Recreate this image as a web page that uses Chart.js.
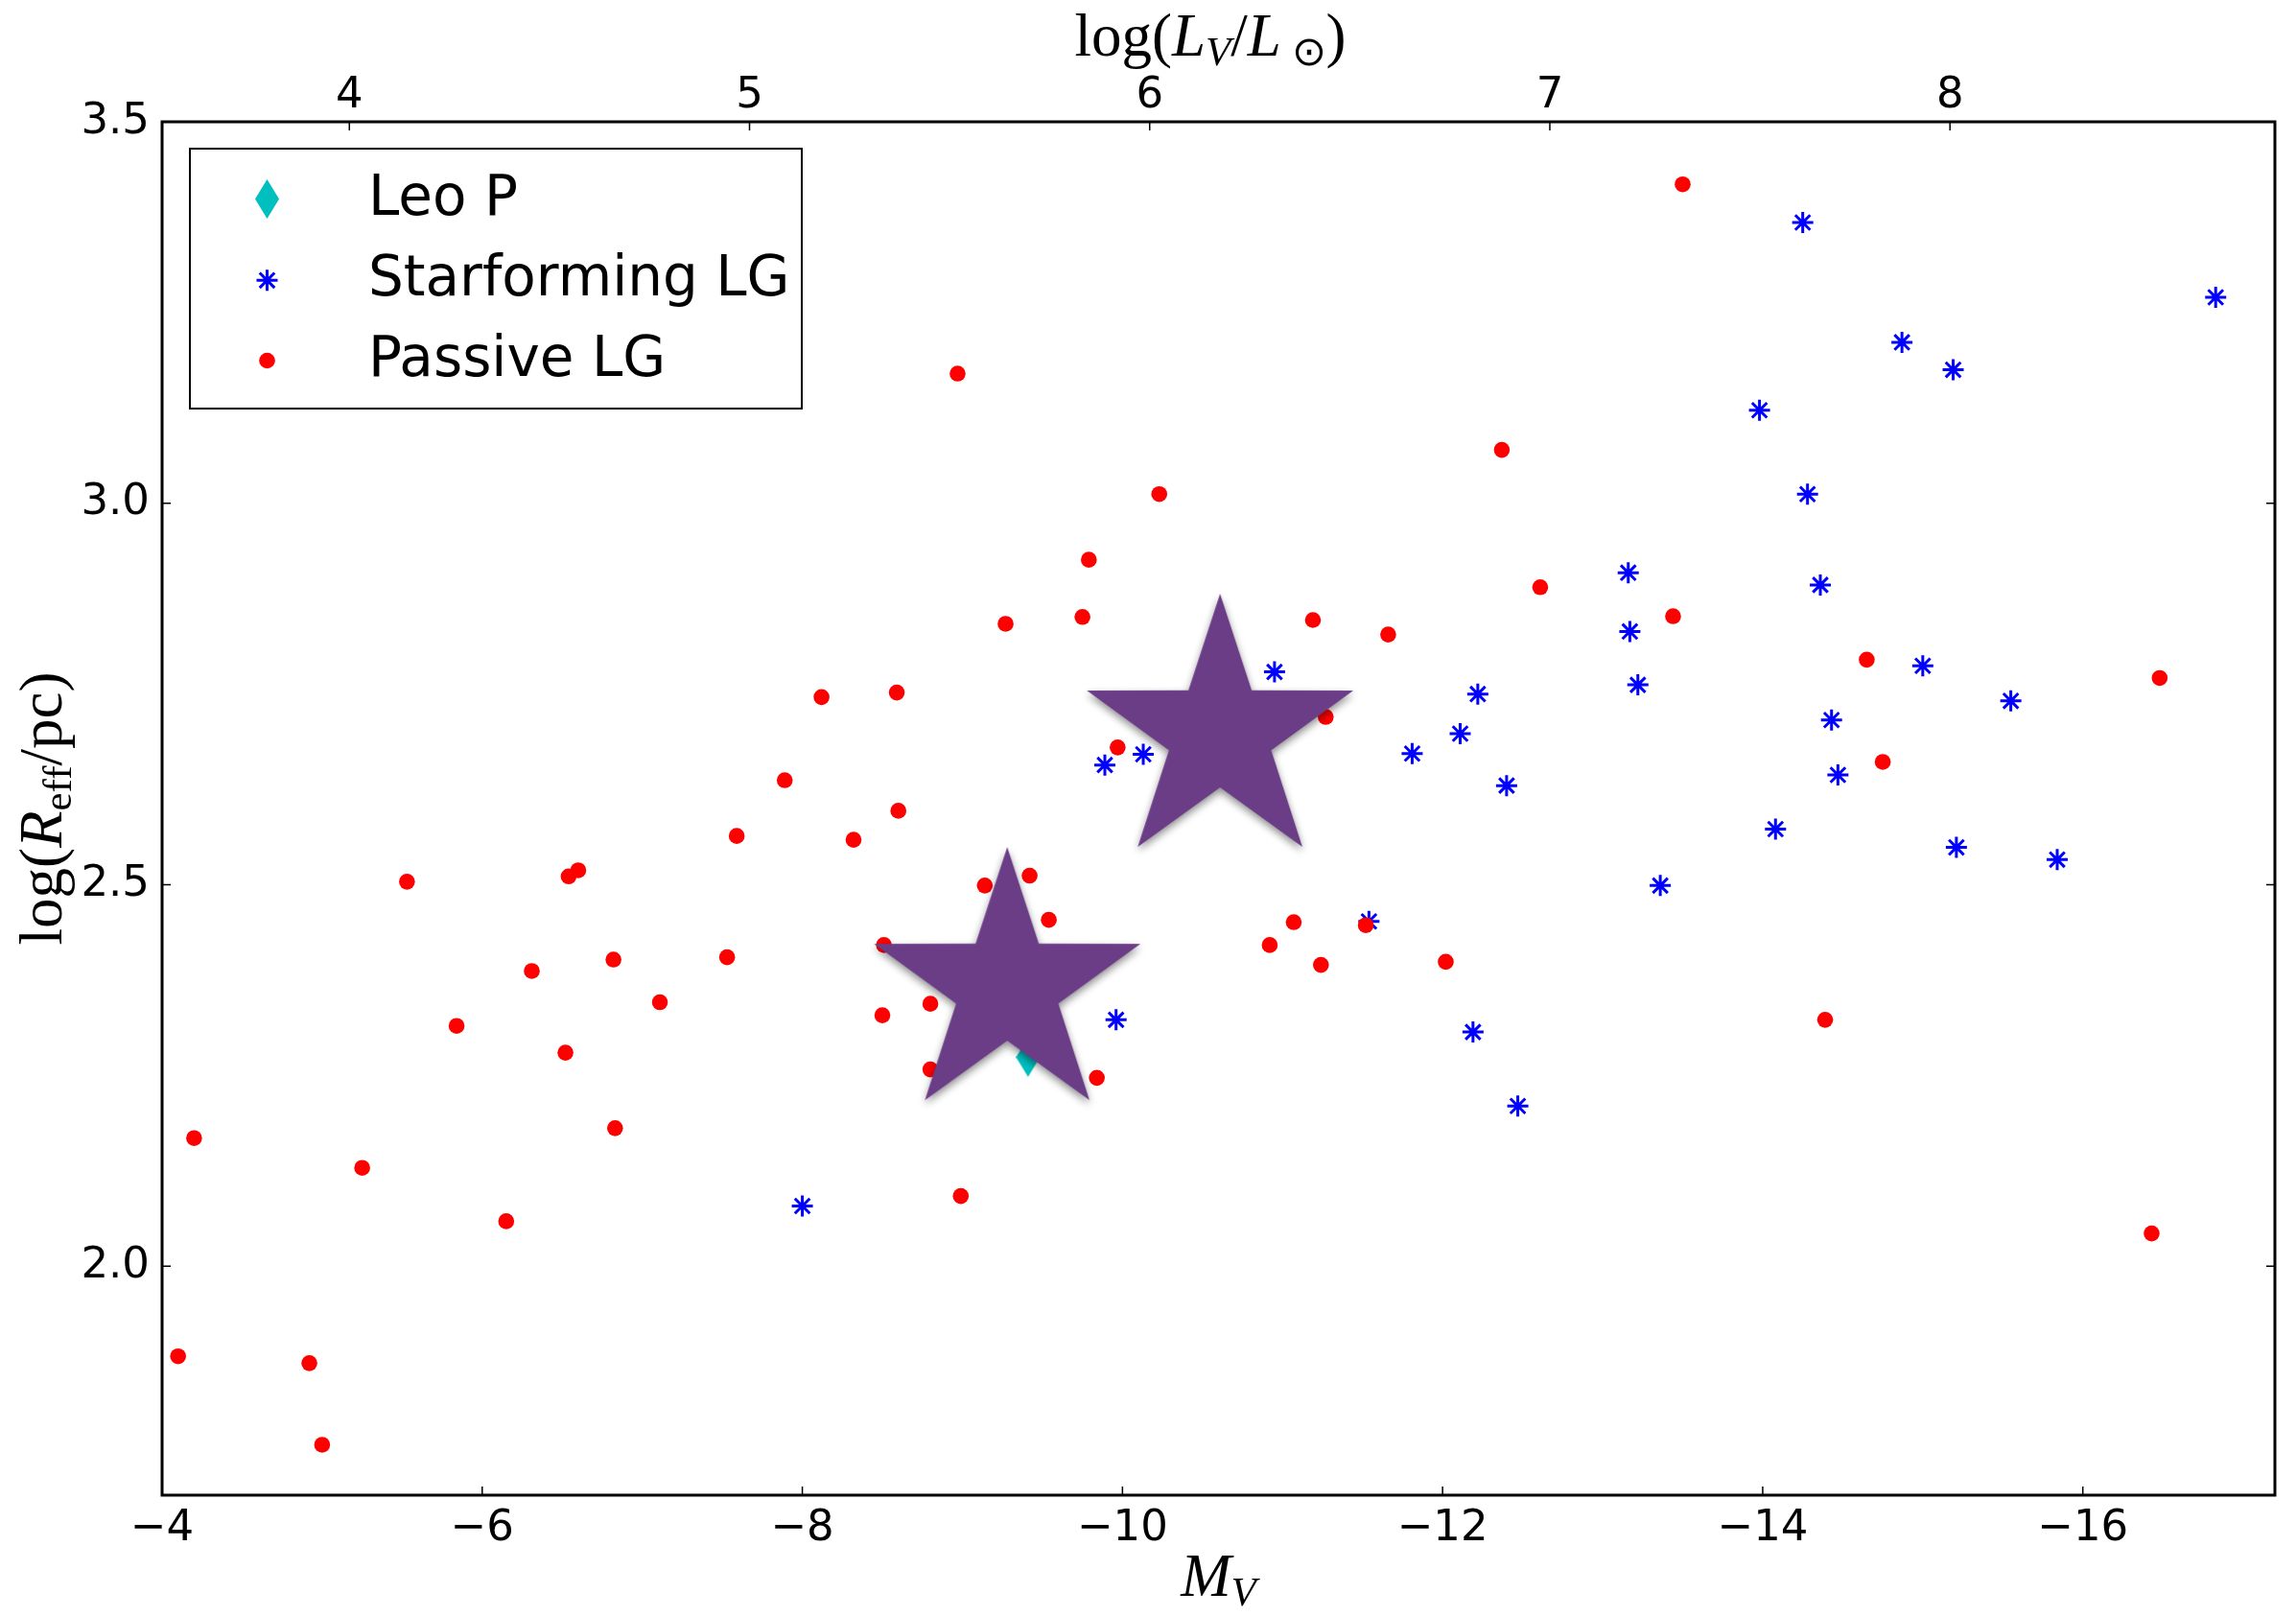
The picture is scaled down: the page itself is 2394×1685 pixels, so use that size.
<!DOCTYPE html>
<html>
<head>
<meta charset="utf-8">
<script src="https://cdn.jsdelivr.net/npm/chart.js@4.4.1/dist/chart.umd.min.js"></script>
<style>
  html, body { margin: 0; padding: 0; background: #fff; }
  #chart { display: block; }
</style>
</head>
<body>
<canvas id="chart" width="2394" height="1685"></canvas>
<script>
// axis ticks
const xTicks = [-16, -14, -12, -10, -8, -6, -4];
const yTicks = [2.0, 2.5, 3.0, 3.5];
const topTicks = [4, 5, 6, 7, 8];
const MSUN = 4.83;
const xMin = -17.2, xMax = -4;

// Leo P
const leoMV = [-9.41];
const leoR = [2.274];

// star forming Local Group dwarfs
const sfMV = [-10.95, -12.22, -12.11, -11.81, -12.40, -10.13, -9.89, -14.25, -16.83, -14.87,
  -15.19, -13.98, -14.28, -13.16, -14.36, -13.17, -13.22, -15.00, -15.55, -14.43,
  -14.47, -13.36, -14.08, -15.21, -15.84, -11.54, -9.96, -12.19, -12.47, -8.00];
const sfR = [2.779, 2.750, 2.698, 2.672, 2.630, 2.671, 2.657, 3.368, 3.270, 3.211,
  3.175, 3.122, 3.012, 2.909, 2.893, 2.832, 2.762, 2.787, 2.741, 2.716,
  2.644, 2.499, 2.573, 2.549, 2.533, 2.452, 2.323, 2.307, 2.210, 2.079];

// passive Local Group dwarfs
const passMV = [-8.12, -7.89, -8.97, -12.37, -10.23, -9.79, -12.61, -9.27, -9.75, -11.19,
  -11.66, -11.27, -9.97, -8.59, -8.60, -13.50, -13.44, -14.65, -16.48, -14.75,
  -14.39, -16.43, -8.32, -9.42, -9.14, -9.54, -8.51, -11.07, -11.52, -10.92,
  -11.24, -12.02, -8.80, -8.50, -8.80, -9.84, -8.99, -7.59, -5.53, -6.54,
  -6.60, -6.31, -6.82, -7.53, -7.11, -5.84, -6.52, -6.83, -4.20, -5.25,
  -6.15, -4.10, -4.92, -5.00];
const passR = [2.746, 2.637, 3.170, 3.070, 3.012, 2.926, 2.890, 2.842, 2.851, 2.847,
  2.828, 2.720, 2.680, 2.752, 2.597, 3.418, 2.852, 2.795, 2.771, 2.661,
  2.323, 2.043, 2.559, 2.512, 2.499, 2.454, 2.421, 2.451, 2.447, 2.421,
  2.395, 2.399, 2.344, 2.329, 2.258, 2.247, 2.092, 2.564, 2.504, 2.511,
  2.519, 2.387, 2.402, 2.405, 2.346, 2.315, 2.280, 2.181, 2.168, 2.129,
  2.059, 1.882, 1.873, 1.766];

// the two big purple stars
const bigMV = [-10.61, -9.28];
const bigR = [2.698, 2.366];

const pts = (xs, ys) => xs.map((x, i) => ({ x: x, y: ys[i] }));
const minus = v => (v < 0 ? '\u2212' + Math.abs(v) : String(v));

// filled 5 point star with a soft shadow
function makeStar(R) {
  const c = document.createElement('canvas');
  const s = Math.ceil(R * 2 + 40);
  c.width = s; c.height = s;
  const g = c.getContext('2d');
  const cx = s / 2, cy = s / 2, r = R * 0.384;
  g.beginPath();
  for (let i = 0; i < 10; i++) {
    const ang = -Math.PI / 2 + i * Math.PI / 5;
    const rr = i % 2 ? r : R;
    g.lineTo(cx + rr * Math.cos(ang), cy + rr * Math.sin(ang));
  }
  g.closePath();
  g.shadowColor = 'rgba(0,0,0,0.45)';
  g.shadowBlur = 9;
  g.shadowOffsetY = 4;
  g.fillStyle = '#6b3d87';
  g.fill();
  return c;
}

// thin diamond (matplotlib 'd')
function makeDiamond(w, h) {
  const c = document.createElement('canvas');
  c.width = w; c.height = h;
  const g = c.getContext('2d');
  g.beginPath();
  g.moveTo(w / 2, 0); g.lineTo(w, h / 2); g.lineTo(w / 2, h); g.lineTo(0, h / 2);
  g.closePath();
  g.fillStyle = 'rgb(0,191,191)';
  g.fill();
  return c;
}

const starImg = makeStar(146);
const diamondImg = makeDiamond(25, 41);

function drawRich(ctx, parts, x, y) {
  let total = 0;
  parts.forEach(p => { ctx.font = p[1]; total += ctx.measureText(p[0]).width; });
  let cx = x - total / 2;
  parts.forEach(p => {
    ctx.font = p[1];
    ctx.fillText(p[0], cx, y + (p[2] || 0));
    cx += ctx.measureText(p[0]).width;
  });
}

const SERIF = '"Liberation Serif"';
const big = '63px ' + SERIF, bigI = 'italic 63px ' + SERIF;
const sub = '43px ' + SERIF, subI = 'italic 43px ' + SERIF;

const framePlugin = {
  id: 'frame',
  afterDatasetsDraw(chart) {
    const { ctx, chartArea: a, scales } = chart;
    ctx.save();
    ctx.strokeStyle = '#000';
    ctx.lineWidth = 1.5;
    ctx.beginPath();
    xTicks.forEach(v => {
      const px = scales.x.getPixelForValue(v);
      ctx.moveTo(px, a.bottom); ctx.lineTo(px, a.bottom - 9);
    });
    topTicks.forEach(v => {
      const px = scales.x2.getPixelForValue(v);
      ctx.moveTo(px, a.top); ctx.lineTo(px, a.top + 9);
    });
    yTicks.forEach(v => {
      const py = scales.y.getPixelForValue(v);
      ctx.moveTo(a.left, py); ctx.lineTo(a.left + 9, py);
      ctx.moveTo(a.right, py); ctx.lineTo(a.right - 9, py);
    });
    ctx.stroke();
    ctx.lineWidth = 3;
    ctx.strokeRect(a.left, a.top, a.right - a.left, a.bottom - a.top);

    // axis titles
    ctx.fillStyle = '#000';
    ctx.textBaseline = 'alphabetic';
    const midX = (a.left + a.right) / 2;
    drawRich(ctx, [['M', bigI], ['V', subI, 10]], midX, 1664);
    drawRich(ctx, [['log(', big], ['L', bigI], ['V', subI, 10], ['/', big], ['L', bigI],
      [' \u2299', sub, 10], [')', big]], 1262, 58);
    ctx.translate(64, (a.top + a.bottom) / 2);
    ctx.rotate(-Math.PI / 2);
    drawRich(ctx, [['log(', big], ['R', bigI], ['eff', sub, 10], ['/pc)', big]], 0, 0);
    ctx.restore();
  },
  afterDraw(chart) {
    const { ctx } = chart;
    ctx.save();
    ctx.fillStyle = '#fff';
    ctx.fillRect(198, 155, 638, 271);
    ctx.strokeStyle = '#000';
    ctx.lineWidth = 2;
    ctx.strokeRect(198, 155, 638, 271);
    const mx = 278.5;
    const rows = [207.5, 292.3, 376];
    ctx.drawImage(diamondImg, mx - 12.5, rows[0] - 20.5);
    // asterisk
    ctx.strokeStyle = 'rgb(0,0,255)';
    ctx.lineWidth = 3;
    ctx.beginPath();
    for (let i = 0; i < 4; i++) {
      const ang = i * Math.PI / 4;
      ctx.moveTo(mx - 11 * Math.cos(ang), rows[1] - 11 * Math.sin(ang));
      ctx.lineTo(mx + 11 * Math.cos(ang), rows[1] + 11 * Math.sin(ang));
    }
    ctx.stroke();
    ctx.fillStyle = 'rgb(255,0,0)';
    ctx.beginPath();
    ctx.arc(mx, rows[2], 8.3, 0, Math.PI * 2);
    ctx.fill();
    ctx.fillStyle = '#000';
    ctx.font = '58px "DejaVu Sans"';
    ctx.textBaseline = 'alphabetic';
    ctx.fillText('Leo P', 384, rows[0] + 16);
    ctx.fillText('Starforming LG', 384, rows[1] + 16);
    ctx.fillText('Passive LG', 384, rows[2] + 16);
    ctx.restore();
  }
};

const tickFont = { family: '"DejaVu Sans"', size: 45 };

new Chart(document.getElementById('chart'), {
  type: 'scatter',
  data: {
    datasets: [
      {
        label: 'stars', data: pts(bigMV, bigR), pointStyle: starImg,
        pointRadius: 1, borderWidth: 0, order: 0
      },
      {
        label: 'Passive LG', data: pts(passMV, passR), pointStyle: 'circle',
        pointRadius: 8.3, backgroundColor: 'rgb(255,0,0)', borderWidth: 0, order: 1
      },
      {
        label: 'Starforming LG', data: pts(sfMV, sfR), pointStyle: 'star',
        pointRadius: 11, borderColor: 'rgb(0,0,255)', borderWidth: 3, order: 2
      },
      {
        label: 'Leo P', data: pts(leoMV, leoR), pointStyle: diamondImg,
        pointRadius: 1, borderWidth: 0, order: 3
      }
    ]
  },
  options: {
    responsive: false,
    animation: false,
    events: [],
    layout: { padding: { left: 0, top: 0, right: 22, bottom: 0 } },
    plugins: { legend: { display: false }, tooltip: { enabled: false } },
    scales: {
      x: {
        type: 'linear', position: 'bottom', reverse: true, min: xMin, max: xMax,
        grid: { display: false }, border: { display: false },
        afterBuildTicks: ax => { ax.ticks = xTicks.map(v => ({ value: v })); },
        afterFit: s => { s.height = 126; },
        ticks: { autoSkip: false, maxRotation: 0, padding: 0, color: '#000', font: tickFont, callback: v => minus(v) }
      },
      x2: {
        type: 'linear', position: 'top',
        min: (MSUN - xMax) / 2.5, max: (MSUN - xMin) / 2.5,
        grid: { display: false }, border: { display: false },
        afterBuildTicks: ax => { ax.ticks = topTicks.map(v => ({ value: v })); },
        afterFit: s => { s.height = 127; },
        ticks: { autoSkip: false, maxRotation: 0, padding: -8, color: '#000', font: tickFont, callback: v => String(v) }
      },
      y: {
        type: 'linear', position: 'left', min: 1.7, max: 3.5,
        grid: { display: false }, border: { display: false },
        afterBuildTicks: ax => { ax.ticks = yTicks.map(v => ({ value: v })); },
        afterFit: s => { s.width = 169; },
        ticks: { autoSkip: false, padding: 5, color: '#000', font: tickFont, callback: v => v.toFixed(1) }
      }
    }
  },
  plugins: [framePlugin]
});
</script>
</body>
</html>
